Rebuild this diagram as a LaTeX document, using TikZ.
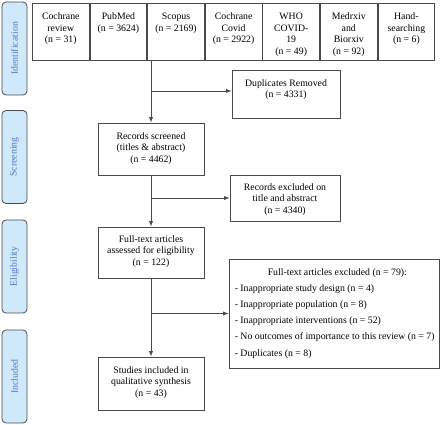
\documentclass[tikz,border=0pt]{standalone}
\usepackage{fontspec}
\setmainfont{Liberation Serif}
\usepackage{tikz}
\usetikzlibrary{positioning}

\definecolor{sidefill}{HTML}{CFE8FA}
\definecolor{sidetext}{HTML}{4F7BC2}
\definecolor{boxline}{HTML}{4A4A4A}

\tikzset{
  box/.style={draw=boxline, line width=0.9pt, inner sep=0pt},
  src/.style={box, minimum width=56.7pt, minimum height=57pt},
  lbl/.style={anchor=north, align=center, inner sep=0pt, yshift=-8.3pt},
  side/.style={rotate=90, draw=boxline, line width=0.8pt, fill=sidefill,
    text=sidetext, rounded corners=4pt, minimum width=93pt,
    minimum height=25pt, inner sep=0pt}
}

\begin{document}
\begin{tikzpicture}[x=1pt, y=-1pt, >=latex, font=\fontsize{9.8}{11.5}\selectfont]
    \useasboundingbox (0,0) rectangle (440,425);

    % phases
    \node[side] (14) at (14.5,48.5) {Identification};
    \node[side] (15) at (14.5,157) {Screening};
    \node[side] (16) at (14.5,266.5) {Eligibility};
    \node[side] (17) at (14.5,376.5) {Included};

    % sources
    \node[src, anchor=north west, label={[lbl]north:{\strut Cochrane\\review\\(n = 31)}}] (1) at (32,3) {};
    \node[src, right=0pt of 1, label={[lbl]north:{\strut PubMed\\(n = 3624)}}] (2) {};
    \node[src, right=0pt of 2, label={[lbl]north:{\strut Scopus\\(n = 2169)}}] (3) {};
    \node[src, right=0pt of 3, label={[lbl]north:{\strut Cochrane\\Covid\\(n = 2922)}}] (4) {};
    \node[src, right=0pt of 4, label={[lbl]north:{\strut WHO\\COVID-\\19\\(n = 49)}}] (5) {};
    \node[src, right=0pt of 5, label={[lbl]north:{\strut Medrxiv\\and\\Biorxiv\\(n = 92)}}] (6) {};
    \node[src, right=0pt of 6, label={[lbl]north:{\strut Hand-\\searching\\(n = 6)}}] (7) {};

    \node[box, minimum width=108pt, minimum height=48pt,
      label={[lbl]north:{\strut Duplicates Removed\\(n = 4331)}}] (8) at (286,94) {};
    \node[box, minimum width=106pt, minimum height=52pt,
      label={[lbl]north:{\strut Records screened\\(titles \& abstract)\\(n = 4462)}}] (9) at (151,149) {};
    \node[box, minimum width=110pt, minimum height=46pt,
      label={[lbl, yshift=1pt]north:{\strut Records excluded on\\title and abstract\\(n = 4340)}}] (10) at (285,198) {};
    \node[box, minimum width=106pt, minimum height=51pt,
      label={[lbl, yshift=1pt]north:{\strut Full-text articles\\assessed for eligibility\\(n = 122)}}] (11) at (151,252.5) {};
    \node[box, minimum width=210pt, minimum height=109pt,
      label={[lbl, anchor=north west, align=left, xshift=6pt]north west:{\strut\hspace*{33pt}Full-text articles excluded (n = 79):\\[4.7pt]
        - Inappropriate study design (n = 4)\\[4.7pt]
        - Inappropriate population (n = 8)\\[4.7pt]
        - Inappropriate interventions (n = 52)\\[4.7pt]
        - No outcomes of importance to this review (n = 7)\\[4.7pt]
        - Duplicates (n = 8)}}] (12) at (334,313.5) {};
    \node[box, minimum width=106pt, minimum height=53pt,
      label={[lbl]north:{\strut Studies included in\\qualitative synthesis\\(n = 43)}}] (13) at (151,383.5) {};

    \draw[->, boxline, line width=0.9pt] (3.south -| 9) -- (9);
    \draw[->, boxline, line width=0.9pt] ([yshift=3pt]8.west -| 9) -- ([yshift=3pt]8.west);
    \draw[->, boxline, line width=0.9pt] (9) -- (11);
    \draw[->, boxline, line width=0.9pt] (10.west -| 9) -- (10.west);
    \draw[->, boxline, line width=0.9pt] (11) -- (13);
    \draw[->, boxline, line width=0.9pt] (12.west -| 11) -- (12.west);
  \end{tikzpicture}
\end{document}
